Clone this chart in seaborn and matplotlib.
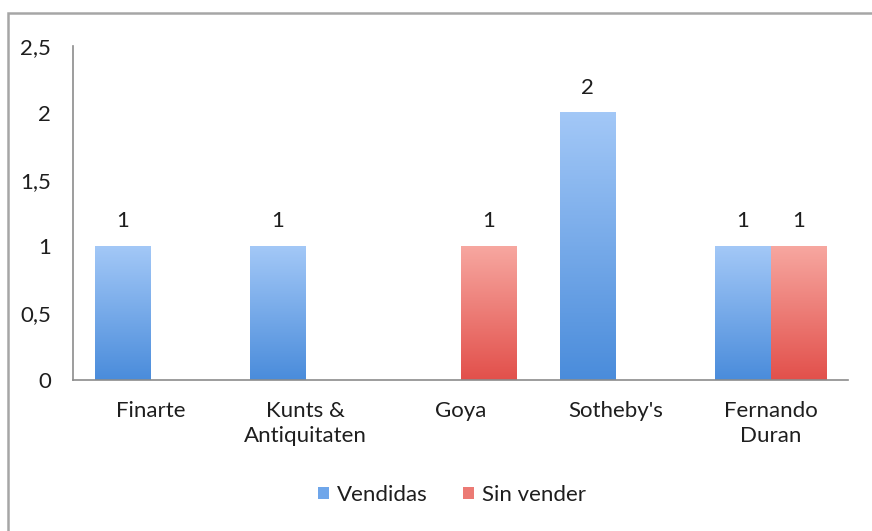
import numpy as np
import pandas as pd
import matplotlib
matplotlib.use("Agg")
import matplotlib.pyplot as plt
import seaborn as sns
from matplotlib.colors import LinearSegmentedColormap
from matplotlib.patches import Rectangle, Patch

# --- Datos ---
empresas = ["Finarte", "Kunts &\nAntiquitaten", "Goya", "Sotheby's", "Fernando\nDuran"]
vendidas = [1, 1, 0, 2, 1]
sin_vender = [0, 0, 1, 0, 1]
series = ["Vendidas", "Sin vender"]
ticks_y = [0, 0.5, 1, 1.5, 2, 2.5]
ticks_y_txt = ["0", "0,5", "1", "1,5", "2", "2,5"]

df = pd.DataFrame({
    "empresa": empresas * 2,
    "serie": [series[0]] * len(empresas) + [series[1]] * len(empresas),
    "valor": vendidas + sin_vender,
})

sns.set_theme(style="white")
plt.rcParams["font.family"] = ["Lato", "DejaVu Sans"]

texto = "#1e1e1e"
colores = {"Vendidas": "#6FA6EA", "Sin vender": "#EC7A74"}
degradados = {
    "Vendidas": LinearSegmentedColormap.from_list("az", ["#4A8CDB", "#A3C8F7"]),
    "Sin vender": LinearSegmentedColormap.from_list("ro", ["#E2504B", "#F7A7A0"]),
}

fig = plt.figure(figsize=(8.72, 5.31), dpi=100)
ax = fig.add_axes([73 / 872, 1 - 380 / 531, 775 / 872, 334 / 531])

sns.barplot(data=df, x="empresa", y="valor", hue="serie", palette=colores,
            width=0.72, ax=ax, legend=False, errorbar=None, saturation=1)

ax.set_ylim(0, 2.5)
xlim = ax.get_xlim()

# Relleno degradado como en Excel
grad = np.linspace(0, 1, 256).reshape(-1, 1)
for cont, serie in zip(ax.containers, series):
    for barra in cont:
        h = barra.get_height()
        if h <= 0:
            barra.set_visible(False)
            continue
        x0 = barra.get_x()
        w = barra.get_width()
        barra.set_alpha(0)
        ax.imshow(grad, cmap=degradados[serie], origin="lower", aspect="auto",
                  extent=[x0, x0 + w, 0, h], zorder=2)
    etiquetas = [("%d" % v if v > 0 else "") for v in cont.datavalues]
    ax.bar_label(cont, labels=etiquetas, padding=11, fontsize=16, color=texto)

ax.set_xlim(xlim)
ax.set_ylim(0, 2.5)
ax.set_yticks(ticks_y)
ax.set_yticklabels(ticks_y_txt)
ax.tick_params(axis="y", length=0, pad=16, labelsize=16, labelcolor=texto)
ax.tick_params(axis="x", length=0, pad=15, labelsize=16, labelcolor=texto)
for lbl in ax.get_xticklabels():
    lbl.set_linespacing(1.35)
ax.set_xlabel("")
ax.set_ylabel("")

for lado in ["top", "right"]:
    ax.spines[lado].set_visible(False)
for lado in ["left", "bottom"]:
    ax.spines[lado].set_color("#8c8c8c")
    ax.spines[lado].set_linewidth(1.2)

# Leyenda
manijas = [Patch(facecolor=colores[s], edgecolor="none") for s in series]
fig.legend(manijas, series, loc="center", bbox_to_anchor=(452 / 872, 1 - 495 / 531),
           ncol=2, frameon=False, fontsize=16, handlelength=0.5, handleheight=0.5,
           handletextpad=0.35, columnspacing=1.6, labelcolor=texto)

# Borde del grafico
fig.patches.append(Rectangle((8 / 872, -0.05), 1.1, 1 - 13 / 531 + 0.05,
                             transform=fig.transFigure, fill=False,
                             edgecolor="#a6a6a6", linewidth=1.8))

plt.savefig("out.png", dpi=100)
